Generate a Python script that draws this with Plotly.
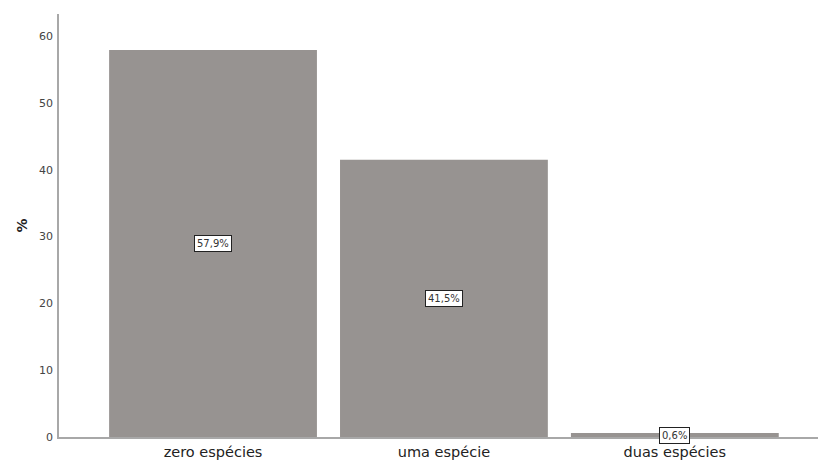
import plotly.graph_objects as go

categories = ["zero espécies", "uma espécie", "duas espécies"]
values = [57.9, 41.5, 0.6]
labels = ["57,9%", "41,5%", "0,6%"]
tick_vals = [0, 10, 20, 30, 40, 50, 60]

fig = go.Figure()
fig.add_trace(go.Bar(
    x=categories, y=values, width=0.9,
    marker=dict(color="#979391", line=dict(width=0)),
    hoverinfo="skip",
))

for c, v, t in zip(categories, values, labels):
    fig.add_annotation(
        x=c, y=v / 2, text=t, showarrow=False,
        bgcolor="white", bordercolor="#222", borderwidth=1, borderpad=2,
        font=dict(family="DejaVu Sans", size=10, color="#333"),
    )

fig.update_layout(
    width=818, height=462,
    margin=dict(l=59, r=0, t=14, b=25, autoexpand=False),
    paper_bgcolor="white", plot_bgcolor="white",
    showlegend=False,
    font=dict(family="DejaVu Sans"),
    bargap=0.1,
)
fig.update_xaxes(
    range=[-0.667, 2.62], automargin=False,
    showline=True, linecolor="#a8a8a8", linewidth=1.5,
    ticks="", showgrid=False, zeroline=False,
    tickfont=dict(size=14.5, color="#222"),
    ticklabelstandoff=1,
)
fig.update_yaxes(
    range=[0, 63.3], tickvals=tick_vals, automargin=False,
    showline=True, linecolor="#a8a8a8", linewidth=1.5,
    ticks="", showgrid=False, zeroline=False,
    tickfont=dict(size=11, color="#444"),
    ticklabelstandoff=2,
    title=dict(text="<b>%</b>", font=dict(size=14, color="#222"), standoff=8),
)

fig.write_html("out.html", config={"displayModeBar": False},
               post_script="document.body.style.margin='0';")
